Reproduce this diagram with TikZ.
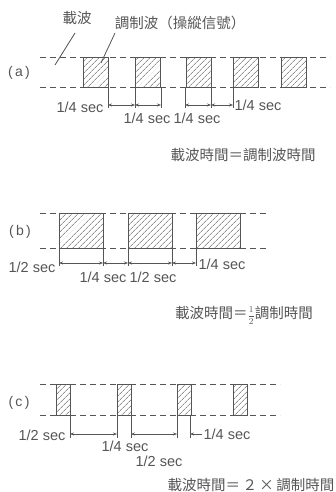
\documentclass[tikz,border=0pt]{standalone}
\usepackage{fontspec}
\setsansfont{Liberation Sans}
\newfontfamily\cjk{Noto Sans CJK TC}
\usetikzlibrary{arrows.meta,patterns.meta}
\definecolor{ink}{HTML}{555555}

\begin{document}
\begin{tikzpicture}[x=1pt,y=-1pt,
	every node/.style={text=ink},
	dim/.style={font=\sffamily\fontsize{14.5}{14}\selectfont, inner sep=1pt},
	tag/.style={font=\sffamily\fontsize{14}{14}\selectfont},
	hanzi/.style={font=\cjk\fontsize{14.5}{15}\selectfont, inner sep=0pt},
	track/.style={draw=ink, dash pattern=on 6pt off 4pt, line width=1pt},
	pulse/.style={draw=ink, line width=1pt, pattern={Lines[angle=45,distance=4pt,line width=0.6pt]}, pattern color=ink},
	tick/.style={draw=ink, line width=0.8pt},
	span/.style={tick, {Stealth[length=4pt,width=3pt]}-{Stealth[length=4pt,width=3pt]}},
	pointer/.style={tick, -{Stealth[length=4pt,width=3pt]}}]
	
	\useasboundingbox (0,0) rectangle (335,492);
	
	% (a)
	\foreach \y in {58,88} \draw[track] (40,\y) -- (330,\y);
	\foreach \x in {83,135,186,233,281} \draw[pulse] (\x,58) rectangle +(25,30);
	\node[tag] (ta) at (19,73) {(\,a\,)};
	
	\node[hanzi] (carrier) at (77,18) {載波};
	\node[hanzi] (modul) at (180,23) {調制波（操縱信號）};
	\coordinate (l0) at (75,33);
	\coordinate (l1) at (55,65);
	\coordinate (m0) at (115,33);
	\coordinate (m1) at (101,63);
	\draw[tick] (l0) -- (l1);
	\draw[tick] (m0) -- (m1);
	
	\foreach \x in {108,135,161,185,211,233} \draw[tick] (\x,88) -- (\x,108);
	\coordinate (a1) at (108,105);
	\coordinate (a2) at (135,105);
	\coordinate (a3) at (161,105);
	\coordinate (a4) at (185,105);
	\coordinate (a5) at (211,105);
	\coordinate (a6) at (233,105);
	\draw[span] (a1) -- (a2);
	\draw[span] (a2) -- (a3);
	\draw[span] (a4) -- (a5);
	\draw[span] (a5) -- (a6);
	
	\node[dim] (la1) at (80,107) {1/4 sec};
	\node[dim] (la2) at (147,118) {1/4 sec};
	\node[dim] (la3) at (197,118) {1/4 sec};
	\node[dim] (la4) at (258,105) {1/4 sec};
	\node[hanzi] (capa) at (243,155) {載波時間＝調制波時間};
	
	% (b)
	\foreach \y in {213,248} \draw[track] (40,\y) -- (268,\y);
	\foreach \x in {59,128,196} \draw[pulse] (\x,213) rectangle +(44,35);
	\node[tag] (tb) at (20,232) {(\,b\,)};
	
	\foreach \x in {59,103,128,172,196} \draw[tick] (\x,248) -- (\x,266);
	\coordinate (b1) at (59,263);
	\coordinate (b2) at (103,263);
	\coordinate (b3) at (128,263);
	\coordinate (b4) at (172,263);
	\coordinate (b5) at (196,263);
	\draw[span] (b1) -- (b2);
	\draw[span] (b2) -- (b3);
	\draw[span] (b3) -- (b4);
	\draw[span] (b4) -- (b5);
	
	\node[dim] (lb1) at (32,267) {1/2 sec};
	\node[dim] (lb2) at (103,277) {1/4 sec};
	\node[dim] (lb3) at (153,277) {1/2 sec};
	\node[dim] (lb4) at (222,264) {1/4 sec};
	\node[hanzi] (capb) at (244,315) {載波時間＝{\fontsize{9}{9}\selectfont$\displaystyle\frac{1}{2}$}調制時間};
	
	% (c)
	\foreach \y in {384,415} \draw[track] (40,\y) -- (280,\y);
	\foreach \x in {56,117,177,233} \draw[pulse] (\x,384) rectangle +(14,31);
	\node[tag] (tc) at (19,403) {(\,c\,)};
	
	\foreach \x in {70,117,131,177,190} \draw[tick] (\x,415) -- (\x,438);
	\coordinate (c1) at (70,434);
	\coordinate (c2) at (117,434);
	\coordinate (c3) at (131,434);
	\coordinate (c4) at (177,434);
	\coordinate (c5) at (190,434);
	\draw[span] (c1) -- (c2);
	\draw[span] (c3) -- (c4);
	
	\node[dim] (lc1) at (42,435) {1/2 sec};
	\node[dim] (lc2) at (125,446) {1/4 sec};
	\node[dim] (lc3) at (159,461) {1/2 sec};
	\node[dim] (lc4) at (227,434) {1/4 sec};
	\draw[pointer] (lc4.west) -- (c5);
	\node[hanzi] (capc) at (251,485) {載波時間＝\,２\,×\,調制時間};
\end{tikzpicture}
\end{document}
